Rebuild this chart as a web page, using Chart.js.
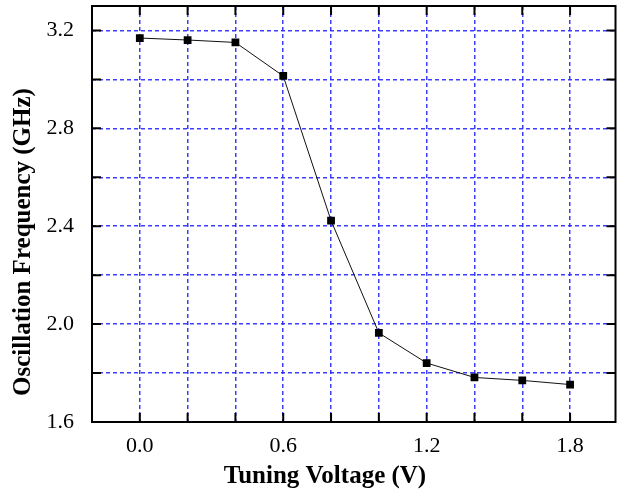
<!DOCTYPE html>
<html>
<head>
<meta charset="utf-8">
<script src="https://cdn.jsdelivr.net/npm/chart.js@4"></script>
<style>
  html, body { margin: 0; padding: 0; background: #fff; }
  #wrap { width: 621px; height: 493px; }
</style>
</head>
<body>
<div id="wrap"><canvas id="freqChart"></canvas></div>
<script>
// data
const voltages = [0.0, 0.2, 0.4, 0.6, 0.8, 1.0, 1.2, 1.4, 1.6, 1.8];
const frequencies = [3.169, 3.161, 3.151, 3.014, 2.423, 1.964, 1.841, 1.782, 1.770, 1.753];
const xTickLabels = [0.0, 0.6, 1.2, 1.8];
const yTickLabels = [1.6, 2.0, 2.4, 2.8, 3.2];
const xTitle = "Tuning Voltage (V)";
const yTitle = "Oscillation Frequency (GHz)";

const serif = "'Liberation Serif', 'Times New Roman', serif";
const near = (v, list) => list.some(t => Math.abs(t - v) < 1e-6);

// frame round the plot + short inward tick marks + axis titles
// (titles sit a bit off the plot centre in the original, so drawn here)
const framePlugin = {
  id: "frame",
  afterDraw(chart) {
    const { ctx, chartArea: a, scales } = chart;
    ctx.save();
    ctx.strokeStyle = "#000";
    ctx.lineWidth = 2;
    ctx.strokeRect(a.left, a.top, a.right - a.left, a.bottom - a.top);
    const len = 9;
    ctx.beginPath();
    scales.x.ticks.forEach(t => {
      const px = scales.x.getPixelForValue(t.value);
      if (px <= a.left + 1 || px >= a.right - 1) return;
      ctx.moveTo(px, a.bottom); ctx.lineTo(px, a.bottom - len);
      ctx.moveTo(px, a.top); ctx.lineTo(px, a.top + len);
    });
    scales.y.ticks.forEach(t => {
      const py = scales.y.getPixelForValue(t.value);
      if (py <= a.top + 1 || py >= a.bottom - 1) return;
      ctx.moveTo(a.left, py); ctx.lineTo(a.left + len, py);
      ctx.moveTo(a.right, py); ctx.lineTo(a.right - len, py);
    });
    ctx.stroke();

    ctx.fillStyle = "#000";
    ctx.font = "bold 25px " + serif;
    ctx.textAlign = "center";
    ctx.textBaseline = "middle";
    ctx.fillText(xTitle, 325, 477);
    ctx.translate(24, 242);
    ctx.rotate(-Math.PI / 2);
    ctx.fillText(yTitle, 0, 0);
    ctx.restore();
  }
};

// fixed box sizes, no extra room for edge labels
function fixBox(scale, w, h) {
  if (w) scale.width = w;
  if (h) scale.height = h;
  scale.paddingTop = 0;
  scale.paddingBottom = 0;
  scale.paddingLeft = 0;
  scale.paddingRight = 0;
}

const gridStyle = {
  color: "rgba(40,40,255,0.9)",
  lineWidth: 1.5,
  drawTicks: false
};

new Chart(document.getElementById("freqChart"), {
  type: "scatter",
  data: {
    datasets: [{
      data: voltages.map((v, i) => ({ x: v, y: frequencies[i] })),
      showLine: true,
      borderColor: "#111",
      borderWidth: 1,
      backgroundColor: "#000",
      pointStyle: "rect",
      pointRadius: 5.5,
      pointBorderWidth: 0,
      pointHoverRadius: 5.5
    }]
  },
  options: {
    responsive: true,
    maintainAspectRatio: false,
    animation: false,
    events: [],
    layout: { padding: { top: 6, right: 2, left: 0, bottom: 0 } },
    plugins: {
      legend: { display: false },
      tooltip: { enabled: false }
    },
    scales: {
      x: {
        type: "linear",
        min: -0.2,
        max: 1.99,
        afterFit(scale) { fixBox(scale, 0, 71); },
        border: { display: false, dash: [4, 3] },
        grid: gridStyle,
        ticks: {
          stepSize: 0.2,
          includeBounds: false,
          autoSkip: false,
          maxRotation: 0,
          padding: 11,
          color: "#000",
          font: { family: serif, size: 22 },
          callback: v => (near(v, xTickLabels) ? v.toFixed(1) : "")
        }
      },
      y: {
        min: 1.6,
        max: 3.3,
        afterFit(scale) { fixBox(scale, 92, 0); },
        border: { display: false, dash: [4, 3] },
        grid: gridStyle,
        ticks: {
          stepSize: 0.2,
          includeBounds: false,
          autoSkip: false,
          padding: 18,
          color: "#000",
          font: { family: serif, size: 22 },
          callback: v => (near(v, yTickLabels) ? v.toFixed(1) : "")
        }
      }
    }
  },
  plugins: [framePlugin]
});
</script>
</body>
</html>
